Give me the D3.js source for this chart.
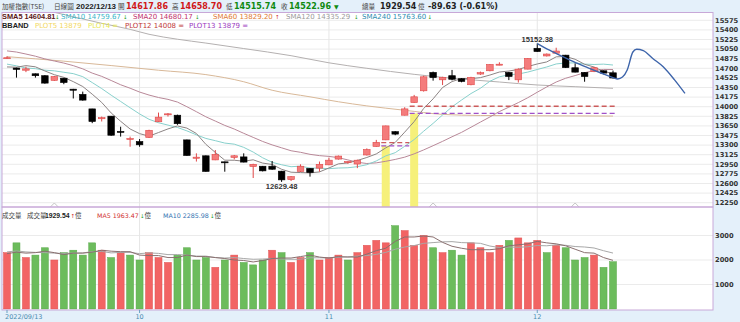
<!DOCTYPE html>
<html><head><meta charset="utf-8">
<script src="https://cdn.jsdelivr.net/npm/d3@7"></script>
<style>body{margin:0;background:#fff;overflow:hidden}svg{display:block;font-family:"DejaVu Sans",sans-serif}</style>
</head><body><svg id="c" width="740" height="322"></svg>
<script>
const dates=["09/13","09/14","09/15","09/16","09/19","09/20","09/21","09/22","09/23","09/26","09/27","09/28","09/29","09/30",
"10/03","10/04","10/05","10/06","10/07","10/11","10/12","10/13","10/14","10/17","10/18","10/19","10/20","10/21","10/24","10/25","10/26","10/27","10/28","10/31",
"11/01","11/02","11/03","11/04","11/07","11/08","11/09","11/10","11/11","11/14","11/15","11/16","11/17","11/18","11/21","11/22","11/23","11/24","11/25","11/28","11/29","11/30",
"12/01","12/02","12/05","12/06","12/07","12/08","12/09","12/12","12/13"];
const opens=[14885,14705,14665,14600,14565,14480,14520,14320,14225,13960,13780,13828,13550,13405,13365,13440,13725,13860,13845,13395,13060,13105,13030,12995,13075,13085,12910,12915,12915,12825,12670,12820,12875,12880,12940,13045,12990,12955,13120,13275,13395,13545,13845,14075,14290,14625,14490,14565,14510,14400,14595,14655,14765,14625,14490,14685,15065,14925,14975,14940,14710,14625,14640,14655,14617.86];
const highs=[14920,14712,14730,14605,14575,14560,14525,14325,14275,13962,13820,13830,13635,13455,13410,13580,13893,13885,13855,13400,13150,13110,13210,13000,13120,13150,12960,12920,13010,12830,12735,12950,12880,13000,13070,13110,13005,13035,13240,13395,13655,13555,13990,14215,14565,14640,14545,14670,14520,14545,14640,14775,14810,14635,14700,14885,15152.38,14970,15075,14945,14790,14630,14725,14660,14658.70];
const lows=[14870,14530,14630,14530,14420,14470,14410,14150,14110,13700,13730,13470,13455,13270,13270,13430,13720,13820,13670,13105,13000,12815,13025,12815,13040,12985,12700,12820,12850,12629.48,12645,12810,12725,12815,12935,13035,12960,12880,13110,13270,13390,13480,13840,14070,14275,14475,14395,14480,14445,14390,14580,14645,14755,14485,14440,14680,15000,14915,14970,14705,14625,14455,14630,14590,14515.74];
const closes=[14893,14680,14690,14565,14430,14550,14440,14300,14120,13730,13800,13480,13540,13420,13305,13570,13810,13870,13690,13110,13080,12820,13130,12985,13105,12990,12950,12830,12860,12666,12725,12915,12800,12950,13025,13100,13000,13025,13220,13350,13650,13500,13960,14180,14545,14530,14535,14500,14460,14535,14620,14770,14775,14550,14685,14880,15005,14960,15015,14712,14630,14550,14710,14612.59,14522.96];
const priorCloses=[15100,15420,15350,15410,15330,15190,15230,15300,15278,14980,14990,15095,14680,14700,14674,14700,14550,14673,14807];
const volumes=[2300,2700,2100,2200,2500,2000,2300,2400,2200,2700,2400,2100,2300,2200,
2000,2300,2100,1900,2200,2500,2000,2100,1700,2000,2200,1900,1800,2000,2400,2300,1900,2100,2300,2000,
2100,2200,2000,2300,2600,2800,2700,3400,3200,2600,3000,2500,2300,2400,2200,2700,2500,2300,2600,2800,2900,2700,
2800,2300,2600,2500,2000,2100,2200,1700,1929.54];
const priorVolumes=[2300,2500,2400,2600,2200,2400,2300,2100,2200];
const sma60Idx=[0,6,11,16,21,25,28,32,35,38,42,46,50,55,60,64];
const sma60Val=[14912,14830,14750,14665,14585,14455,14300,14180,14090,14015,13935,13860,13840,13835,13832,13829.2];
const sma120Idx=[0,5,10,13,15,18,21,25,30,34,38,43,47,52,56,60,64];
const sma120Val=[15900,15720,15520,15410,15320,15230,15160,15060,14930,14800,14700,14590,14520,14450,14396,14365,14335.29];
const plotStart=[40,43], plotEnd=[42,64];
const plot12Vals=[13345,14008], plot13Vals=[13285,13879];
const signalIdx=[40,43];
const markerIdx=[5,45,60];
const forecastIdx=[56,57.3,58.7,60.1,61.5,62.8,64,64.5,65,65.5,66.1,66.5,67.2,68.2,69.3,70.5,71.6];
const forecastVal=[15152,15030,14912,14800,14700,14610,14529,14505,14540,14669,14997,15046,15021,14880,14729,14490,14244];
const priceTicks=[15575,15400,15225,15050,14875,14700,14525,14350,14175,14000,13825,13650,13475,13300,13125,12950,12775,12600,12425,12250];
const volTicks=[1000,2000,3000];
const monthTickIdx=[0,14,34,56], monthLabels=["2022/09/13","10","11","12"];
const highLabelIdx=56, lowLabelIdx=29;

const svg=d3.select("#c");
const L=2,R=713,mT=12.5,mB=207,vT=207,vB=310;
const x=d3.scaleLinear().domain([0,64]).range([7,613]);
const y=d3.scaleLinear().domain([12250,15575]).range([202.7,20.3]);
const yv=d3.scaleLinear().domain([0,3000]).range([309,235.5]);

svg.append("rect").attr("width",740).attr("height",322).attr("fill","#e4f0fa");
svg.append("rect").attr("x",L).attr("y",mT).attr("width",R-L).attr("height",vB-mT).attr("fill","#fff");
const defs=svg.append("defs");
defs.append("clipPath").attr("id","cm").append("rect").attr("x",L).attr("y",mT).attr("width",R-L).attr("height",mB-mT);
defs.append("clipPath").attr("id","cv").append("rect").attr("x",L).attr("y",vT).attr("width",R-L).attr("height",vB-vT);

svg.append("g").selectAll("line").data(priceTicks).join("line")
 .attr("x1",L).attr("x2",R).attr("y1",d=>y(d)).attr("y2",d=>y(d)).attr("stroke","#ebebeb");
svg.append("g").selectAll("line").data(volTicks).join("line")
 .attr("x1",L).attr("x2",R).attr("y1",d=>yv(d)).attr("y2",d=>yv(d)).attr("stroke","#ebebeb");
svg.append("g").selectAll("line").data(monthTickIdx.slice(1)).join("line")
 .attr("x1",d=>x(d)).attr("x2",d=>x(d)).attr("y1",mT).attr("y2",vB).attr("stroke","#e6e6e6");

const gm=svg.append("g").attr("clip-path","url(#cm)");
gm.selectAll("rect.sig").data(signalIdx).join("rect").attr("class","sig")
 .attr("x",d=>x(d)-4).attr("width",8).attr("y",(d,i)=>y(plot13Vals[i])).attr("height",(d,i)=>mB-y(plot13Vals[i])).attr("fill","#f6f07a");

const allC=priorCloses.concat(closes);
function sma(n){return closes.map((c,i)=>d3.mean(allC.slice(i+priorCloses.length-n+1,i+priorCloses.length+1)));}
const sma5=sma(5),sma10=sma(10),sma20=sma(20);
const ln=d3.line().x(d=>x(d[0])).y(d=>y(d[1]));
const lnS=d3.line().x(d=>x(d[0])).y(d=>y(d[1])).curve(d3.curveMonotoneX);
gm.append("path").attr("d",lnS(sma120Idx.map((d,i)=>[d,sma120Val[i]]))).attr("fill","none").attr("stroke","#b4b0b0").attr("stroke-width",1);
gm.append("path").attr("d",lnS(sma60Idx.map((d,i)=>[d,sma60Val[i]]))).attr("fill","none").attr("stroke","#d8b898").attr("stroke-width",1);
gm.append("path").attr("d",ln(sma20.map((v,i)=>[i,v]))).attr("fill","none").attr("stroke","#b88898").attr("stroke-width",1);
gm.append("path").attr("d",ln(sma10.map((v,i)=>[i,v]))).attr("fill","none").attr("stroke","#88d0cc").attr("stroke-width",1);
gm.append("path").attr("d",ln(sma5.map((v,i)=>[i,v]))).attr("fill","none").attr("stroke","#8c8484").attr("stroke-width",1);

plotStart.forEach((s,i)=>{
 gm.append("line").attr("x1",x(s)-4.5).attr("x2",x(plotEnd[i])+4.5).attr("y1",y(plot12Vals[i])).attr("y2",y(plot12Vals[i]))
  .attr("stroke","#cc5c5c").attr("stroke-width",1.4).attr("stroke-dasharray","5,3");
 gm.append("line").attr("x1",x(s)-4.5).attr("x2",x(plotEnd[i])+4.5).attr("y1",y(plot13Vals[i])).attr("y2",y(plot13Vals[i]))
  .attr("stroke","#a050c8").attr("stroke-width",1.4).attr("stroke-dasharray","5,3");
});

const cg=gm.append("g");
closes.forEach((c,i)=>{
 const up=c>=opens[i];
 const col=up?"#e04848":"#000";
 cg.append("line").attr("x1",x(i)).attr("x2",x(i)).attr("y1",y(highs[i])).attr("y2",y(lows[i])).attr("stroke",col).attr("stroke-width",1);
 const t=y(Math.max(c,opens[i])), b=y(Math.min(c,opens[i]));
 cg.append("rect").attr("x",x(i)-3.3).attr("width",6.6).attr("y",t).attr("height",Math.max(1,b-t))
  .attr("fill",up?"#f47c7c":"#000").attr("stroke",up?"#e04848":"#000").attr("stroke-width",0.6);
});
gm.selectAll("path.mk").data(markerIdx).join("path").attr("class","mk")
 .attr("d",d=>`M${x(d)-4},${mB}L${x(d)},${mB-4}L${x(d)+4},${mB}`).attr("fill","#fff").attr("stroke","#c4c4c4");
gm.append("path").attr("d",lnS(forecastIdx.map((d,i)=>[d,forecastVal[i]]))).attr("fill","none").attr("stroke","#3d64aa").attr("stroke-width",1.4);

svg.append("text").attr("x",x(highLabelIdx)).attr("y",y(highs[highLabelIdx])-1).attr("text-anchor","middle")
 .attr("font-family","Liberation Sans").attr("font-weight","bold").attr("font-size",7.6).attr("fill","#333").text(highs[highLabelIdx].toFixed(2));
svg.append("text").attr("x",x(lowLabelIdx)).attr("y",y(lows[lowLabelIdx])+7.5).attr("text-anchor","middle")
 .attr("font-family","Liberation Sans").attr("font-weight","bold").attr("font-size",7.6).attr("fill","#333").text(lows[lowLabelIdx].toFixed(2));

const gv=svg.append("g").attr("clip-path","url(#cv)");
const allV=priorVolumes.concat(volumes);
volumes.forEach((v,i)=>{
 const prev=i===0?priorCloses[priorCloses.length-1]:closes[i-1];
 const up=closes[i]>=prev;
 gv.append("rect").attr("x",x(i)-3.5).attr("width",7).attr("y",yv(v)).attr("height",yv(0)-yv(v))
  .attr("fill",up?"#f26464":"#6cbc5c").attr("stroke",up?"#e05050":"#58a848").attr("stroke-width",0.5);
});
function vma(n){return volumes.map((v,i)=>d3.mean(allV.slice(i+priorVolumes.length-n+1,i+priorVolumes.length+1)));}
const vl=d3.line().x((d,i)=>x(i)).y(d=>yv(d));
gv.append("path").attr("d",vl(vma(10))).attr("fill","none").attr("stroke","#a8a8a8").attr("stroke-width",1);
gv.append("path").attr("d",vl(vma(5))).attr("fill","none").attr("stroke","#8a7070").attr("stroke-width",1);

svg.append("rect").attr("x",L).attr("y",mT).attr("width",R-L).attr("height",mB-mT).attr("fill","none").attr("stroke","#c8a8d8");
svg.append("rect").attr("x",L).attr("y",vT).attr("width",R-L).attr("height",vB-vT).attr("fill","none").attr("stroke","#c8a8d8");

svg.append("g").selectAll("text").data(priceTicks).join("text").attr("x",715).attr("y",d=>y(d)).attr("dy","0.35em")
 .attr("font-size",6.7).attr("font-weight","bold").attr("fill","#333").text(d=>d);
svg.append("g").selectAll("text").data(volTicks).join("text").attr("x",715).attr("y",d=>yv(d)).attr("dy","0.35em")
 .attr("font-size",6.7).attr("font-weight","bold").attr("fill","#333").text(d=>d);
svg.append("g").selectAll("line").data(monthTickIdx).join("line").attr("x1",d=>x(d)).attr("x2",d=>x(d)).attr("y1",vB).attr("y2",vB+3).attr("stroke","#6aa0c0");
svg.append("g").selectAll("text").data(monthTickIdx).join("text").attr("x",(d,i)=>i===0?x(d)-2:x(d)).attr("y",319)
 .attr("text-anchor",(d,i)=>i===0?"start":"middle").attr("font-size",6.5).attr("fill","#4a8cb0").text((d,i)=>monthLabels[i]);

const hd=svg.append("text").attr("y",9.3).attr("font-size",8);
function tsp(sel,txt,xp,col,opt={}){const t=sel.append("tspan").attr("x",xp).text(txt).attr("fill",col);
 if(opt.b)t.attr("font-weight","bold"); if(opt.f)t.attr("font-family",opt.f); if(opt.s)t.attr("font-size",opt.s); return t;}
const cjk="Noto Sans CJK TC", lib="Liberation Sans";
const hc={f:cjk,s:6.6};
tsp(hd,"加權指數(TSE)",2,"#444",hc);
tsp(hd,"日線圖",54,"#444",hc);
tsp(hd,"2022/12/13",76,"#222",{b:1,f:lib,s:8});
tsp(hd,"開",118,"#444",hc);
tsp(hd,"14617.86",126,"#d01818",{b:1});
tsp(hd,"高",172,"#444",hc);
tsp(hd,"14658.70",180,"#d01818",{b:1});
tsp(hd,"低",226,"#444",hc);
tsp(hd,"14515.74",234,"#108a10",{b:1});
tsp(hd,"收",281,"#444",hc);
tsp(hd,"14522.96",289,"#108a10",{b:1});
tsp(hd,"▼",334,"#108a10",{s:6});
tsp(hd,"總量",362,"#444",hc);
tsp(hd,"1929.54",380,"#222",{b:1});
tsp(hd,"億",418,"#444",hc);
tsp(hd,"-89.63 (-0.61%)",428,"#222",{b:1});

const up="↑",dn="↓";
function legend(yp,items){const t=svg.append("text").attr("y",yp).attr("font-size",7);
 items.forEach(it=>{tsp(t,it[0],it[1],it[2],it[3]||{});});}
const ar={s:5.5};
legend(18.5,[["SMA5 14604.81",2,"#5a1818",{b:1,f:lib,s:7.4}],[dn,55,"#119911",ar],
 ["SMA10 14759.67",61,"#38b4c8"],[dn,123,"#119911",ar],
 ["SMA20 14680.17",133,"#c0306c"],[dn,195,"#119911",ar],
 ["SMA60 13829.20",213,"#e07a30"],[up,275,"#d01818",ar],
 ["SMA120 14335.29",286,"#9a9a9a"],[dn,354,"#119911",ar],
 ["SMA240 15763.60",362,"#2a8cb0"],[dn,427.5,"#119911",ar]]);
legend(27.5,[["BBAND",2,"#222",{b:1,f:lib,s:7.4}],["PLOT5 13879",35,"#f2d860"],["PLOT4 =",88,"#e8e850"],
 ["PLOT12 14008 =",125,"#c03838"],["PLOT13 13879 =",189,"#9a38c0"]]);
const vlg=svg.append("text").attr("y",217.5).attr("font-size",6.3);
tsp(vlg,"成交量",2,"#444",{f:cjk,s:6.5});
tsp(vlg,"成交量",27,"#444",{f:cjk,s:6.5});
tsp(vlg,"1929.54",45,"#222",{b:1,f:lib,s:6.8});
tsp(vlg,up,70.5,"#d01818",ar);
tsp(vlg,"億",75,"#444",{f:cjk,s:6.5});
tsp(vlg,"MA5 1963.47",97,"#d03030");
tsp(vlg,dn,140,"#119911",ar);
tsp(vlg,"億",144.5,"#444",{f:cjk,s:6.5});
tsp(vlg,"MA10 2285.98",163,"#2e70b0");
tsp(vlg,dn,210,"#119911",ar);
tsp(vlg,"億",214.5,"#444",{f:cjk,s:6.5});
</script></body></html>
